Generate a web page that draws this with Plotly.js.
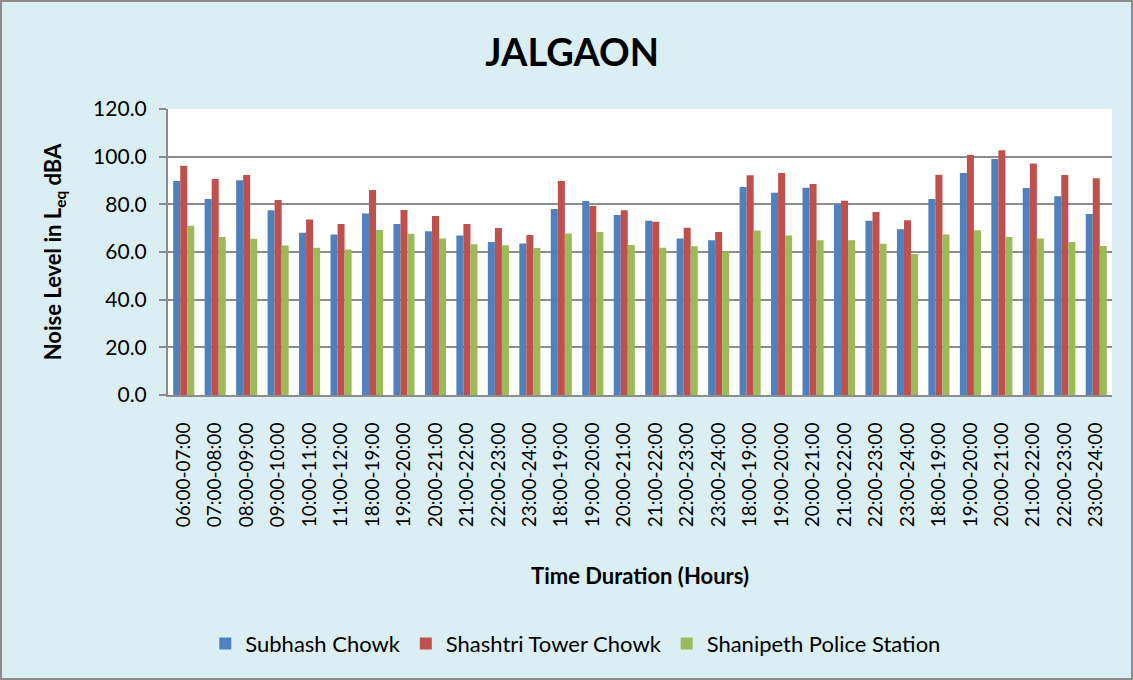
<!DOCTYPE html>
<html><head><meta charset="utf-8">
<script src="https://cdn.plot.ly/plotly-3.0.1.min.js"></script>
<style>
html,body{margin:0;padding:0;background:#DBEEF3;}
#wrap{position:relative;width:1133px;height:680px;}
#chart{width:1133px;height:680px;}
#frame{position:absolute;left:0;top:0;width:1133px;height:680px;box-sizing:border-box;border:2px solid #8c8c8c;pointer-events:none;}
</style></head>
<body>
<div id="wrap"><div id="chart"></div><div id="frame"></div></div>
<script>
const categories = ["06:00-07:00","07:00-08:00","08:00-09:00","09:00-10:00","10:00-11:00","11:00-12:00",
"18:00-19:00","19:00-20:00","20:00-21:00","21:00-22:00","22:00-23:00","23:00-24:00",
"18:00-19:00","19:00-20:00","20:00-21:00","21:00-22:00","22:00-23:00","23:00-24:00",
"18:00-19:00","19:00-20:00","20:00-21:00","21:00-22:00","22:00-23:00","23:00-24:00",
"18:00-19:00","19:00-20:00","20:00-21:00","21:00-22:00","22:00-23:00","23:00-24:00"];
const subhash = [89.8,82.2,90.1,77.5,68.1,67.3,76.2,71.7,68.7,66.9,64.2,63.6,78.0,81.4,75.5,73.1,65.7,64.9,87.3,84.9,87.0,79.9,73.1,69.5,82.2,93.1,99.0,86.9,83.4,75.9];
const shashtri = [96.2,90.6,92.3,81.8,73.6,71.7,86.0,77.6,75.1,71.7,70.1,67.1,89.8,79.3,77.5,72.7,70.2,68.4,92.2,93.1,88.5,81.5,76.8,73.3,92.4,100.7,102.7,97.1,92.3,90.9];
const shanipeth = [71.0,66.3,65.6,62.7,61.8,61.1,69.2,67.7,65.7,63.2,62.8,61.7,67.8,68.4,62.9,61.8,62.4,60.1,69.0,66.9,64.9,64.9,63.5,59.2,67.3,69.1,66.3,65.7,64.2,62.5];
const seriesNames = ["Subhash Chowk","Shashtri Tower Chowk","Shanipeth Police Station"];
const colors = ["#4F81BD","#C0504D","#9BBB59"];

const idx = categories.map((c,i)=>i);
const data = [subhash, shashtri, shanipeth].map((vals,k)=>({
  type:'bar', x: idx, y: vals, name: seriesNames[k],
  marker:{color: colors[k], line:{width:0}}
}));

const font = "Lato, 'Open Sans', sans-serif";
const layout = {
  width:1133, height:680,
  paper_bgcolor:'#DBEEF3', plot_bgcolor:'#FFFFFF',
  margin:{l:168, r:21, t:109, b:285},
  font:{family:font, color:'#000', size:19},
  title:{text:'<b>JALGAON</b>', font:{family:font, size:38, color:'#000'}, x:0.505, xanchor:'center', y:0.922, yanchor:'middle'},
  barmode:'group', bargap:0.33, bargroupgap:0,
  showlegend:true,
  legend:{orientation:'h', x:0.432, xanchor:'center', y:-0.87, yanchor:'middle', font:{family:font, size:22}, itemwidth:30, traceorder:'normal'},
  xaxis:{
    tickmode:'array', tickvals: idx, ticktext: categories, tickangle:-90,
    range:[-0.5, 29.5], showgrid:false, zeroline:false,
    showline:true, linecolor:'#8c8c8c', linewidth:2,
    ticks:'outside', ticklen:18, tickcolor:'rgba(0,0,0,0)',
    tickfont:{family:font, size:19},
    title:{text:'<b>Time Duration (Hours)</b>', font:{family:font, size:22}, standoff:42},
    fixedrange:true
  },
  yaxis:{
    range:[0,120], dtick:20, tickformat:'.1f',
    showgrid:true, gridcolor:'#8c8c8c', gridwidth:2,
    zeroline:false, showline:true, linecolor:'#8c8c8c', linewidth:2,
    ticks:'outside', ticklen:7, tickcolor:'#8c8c8c', tickwidth:2,
    ticklabelstandoff:8,
    tickfont:{family:font, size:21},
    title:{text:'<b>Noise Level in L<sub>eq</sub> dBA</b>', font:{family:font, size:22}, standoff:25},
    fixedrange:true
  }
};
Plotly.newPlot('chart', data, layout, {displayModeBar:false, staticPlot:true});
</script>
</body></html>
